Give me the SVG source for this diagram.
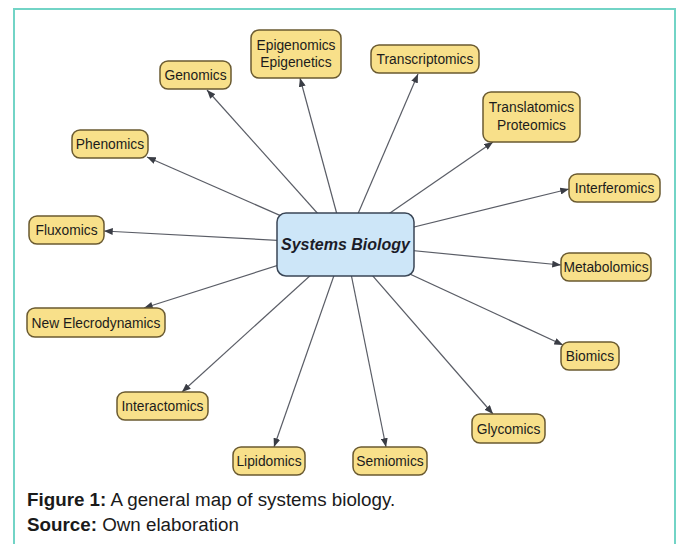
<svg xmlns="http://www.w3.org/2000/svg" width="678" height="544" viewBox="0 0 678 544">
<defs>
<marker id="ah" viewBox="0 0 10 8" refX="10" refY="4" markerWidth="9" markerHeight="7" markerUnits="userSpaceOnUse" orient="auto">
<path d="M0,0 L10,4 L0,8 Z" fill="#3a3d45"/>
</marker>
<style>
.n rect{fill:#F8E08A;stroke:#6a5a30;stroke-width:1.5}
.n text{font-family:"Liberation Sans",Arial,sans-serif;font-size:13.8px;fill:#1c1c1c;text-anchor:middle}
.c line{stroke:#5a5d66;stroke-width:1.2;marker-end:url(#ah)}
.cap{font-family:"Liberation Sans",Arial,sans-serif;font-size:18.8px;fill:#1a1a1a}
</style>
</defs>
<rect width="678" height="544" fill="#fff"/>
<path d="M14,544 V9 H676" fill="none" stroke="#72d4c6" stroke-width="2"/>
<line x1="675" y1="9" x2="675" y2="544" stroke="#72d4c6" stroke-width="2"/>
<g id="connectors" class="c">
<line x1="345" y1="244" x2="207" y2="90"/>
<line x1="345" y1="244" x2="300" y2="78"/>
<line x1="345" y1="244" x2="418" y2="74"/>
<line x1="345" y1="244" x2="493" y2="142"/>
<line x1="345" y1="244" x2="147" y2="157"/>
<line x1="345" y1="244" x2="569" y2="189"/>
<line x1="345" y1="244" x2="104" y2="231"/>
<line x1="345" y1="244" x2="561" y2="265"/>
<line x1="345" y1="244" x2="144" y2="308"/>
<line x1="345" y1="244" x2="563" y2="345"/>
<line x1="345" y1="244" x2="182" y2="392"/>
<line x1="345" y1="244" x2="493" y2="414"/>
<line x1="345" y1="244" x2="274" y2="447"/>
<line x1="345" y1="244" x2="386" y2="447"/>
</g>
<g id="systems-biology">
<rect x="277" y="213" width="137" height="63" rx="9" fill="#CDE6F8" stroke="#3a4656" stroke-width="1.5"/>
<text x="345.5" y="250" font-family="'Liberation Sans',Arial,sans-serif" font-size="16px" font-weight="bold" font-style="italic" fill="#1c1c28" text-anchor="middle">Systems Biology</text>
</g>
<g id="genomics" class="n"><rect x="160" y="61" width="71" height="28" rx="8"/><text x="195.5" y="80">Genomics</text></g>
<g id="epigenomics" class="n"><rect x="251" y="30" width="90" height="48" rx="8"/><text x="296" y="50">Epigenomics</text><text x="296" y="67">Epigenetics</text></g>
<g id="transcriptomics" class="n"><rect x="371" y="45" width="108" height="28" rx="8"/><text x="425" y="64">Transcriptomics</text></g>
<g id="translatomics" class="n"><rect x="483" y="92" width="97" height="50" rx="8"/><text x="531.5" y="112">Translatomics</text><text x="531.5" y="130">Proteomics</text></g>
<g id="phenomics" class="n"><rect x="72" y="130" width="76" height="28" rx="8"/><text x="110" y="149">Phenomics</text></g>
<g id="interferomics" class="n"><rect x="569" y="174" width="91" height="28" rx="8"/><text x="614.5" y="193">Interferomics</text></g>
<g id="fluxomics" class="n"><rect x="29" y="216" width="75" height="28" rx="8"/><text x="66.5" y="235">Fluxomics</text></g>
<g id="metabolomics" class="n"><rect x="561" y="253" width="90" height="28" rx="8"/><text x="606" y="272">Metabolomics</text></g>
<g id="new-elecrodynamics" class="n"><rect x="27" y="308" width="138" height="29" rx="8"/><text x="96" y="327.5">New Elecrodynamics</text></g>
<g id="biomics" class="n"><rect x="561" y="342" width="58" height="28" rx="8"/><text x="590" y="361">Biomics</text></g>
<g id="interactomics" class="n"><rect x="117" y="392" width="91" height="28" rx="8"/><text x="162.5" y="411">Interactomics</text></g>
<g id="glycomics" class="n"><rect x="472" y="414" width="73" height="29" rx="8"/><text x="508.5" y="433.5">Glycomics</text></g>
<g id="lipidomics" class="n"><rect x="233" y="447" width="72" height="28" rx="8"/><text x="269" y="466">Lipidomics</text></g>
<g id="semiomics" class="n"><rect x="353" y="447" width="74" height="28" rx="8"/><text x="390" y="466">Semiomics</text></g>
<text class="cap" x="27" y="506"><tspan font-weight="bold">Figure 1:</tspan> A general map of systems biology.</text>
<text class="cap" x="27" y="531"><tspan font-weight="bold">Source:</tspan> Own elaboration</text>
</svg>
